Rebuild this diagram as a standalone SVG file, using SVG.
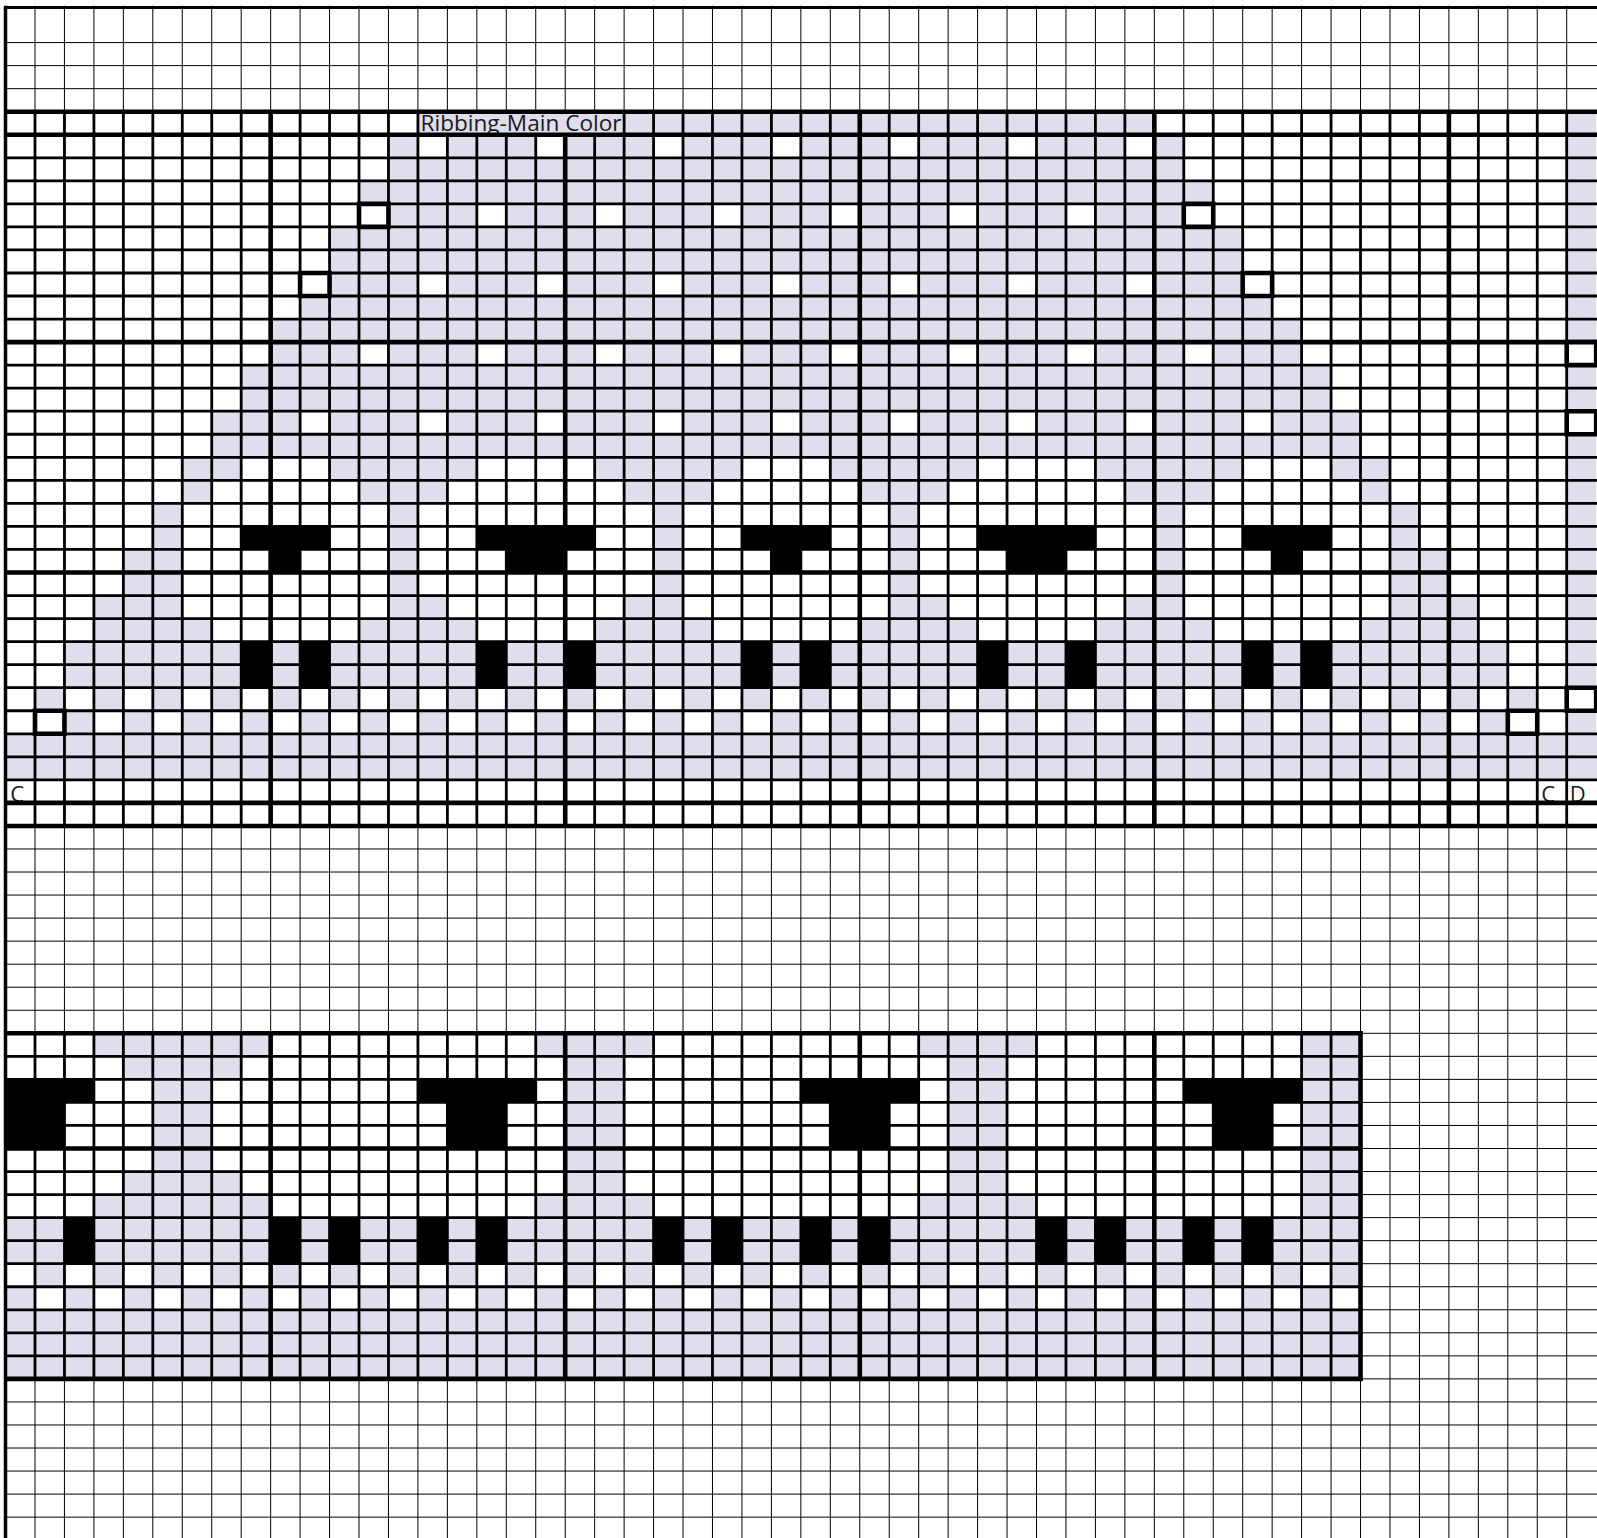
<svg xmlns="http://www.w3.org/2000/svg" width="1597" height="1538" viewBox="0 0 1597 1538">
<style>
.L{fill:#E0DDEC}
.B{fill:#000}
.thin{stroke:#000;stroke-width:1;fill:none;vector-effect:non-scaling-stroke}
.reg{stroke:#000;stroke-width:2.8;fill:none;vector-effect:non-scaling-stroke}
.thk{stroke:#000;stroke-width:4.6;fill:none;vector-effect:non-scaling-stroke}
.out{stroke:#000;stroke-width:4.6;fill:#fff;vector-effect:non-scaling-stroke}
.t{font-family:"Open Sans","Liberation Sans",sans-serif;font-size:22px;fill:#1a1a1a}
</style>
<defs>
<clipPath id="clipR0"><rect x="418" y="112" width="206" height="22.5"/></clipPath>
<clipPath id="clipR29"><rect x="0" y="780" width="1597" height="22.5"/></clipPath>
</defs>
<rect width="1597" height="1538" fill="#fff"/>
<g transform="translate(5.54,111.7) scale(29.456,23.04)">
<g id="chart1-fills">
<path class="L" d="M14 0h25v1h-25z M53 0h1v10h-1z M53 11h1v2h-1z M53 14h1v11h-1z
M13 1h1v1h-1z M15 1h3v1h-3z M19 1h3v1h-3z M23 1h3v1h-3z M27 1h3v1h-3z M31 1h3v1h-3z M35 1h3v1h-3z M39 1h1v1h-1z
M13 2h27v1h-27z M12 3h29v1h-29z
M13 4h3v1h-3z M17 4h3v1h-3z M21 4h3v1h-3z M25 4h3v1h-3z M29 4h3v1h-3z M33 4h3v1h-3z M37 4h3v1h-3z
M11 5h31v2h-31z
M11 7h3v1h-3z M15 7h3v1h-3z M19 7h3v1h-3z M23 7h3v1h-3z M27 7h3v1h-3z M31 7h3v1h-3z M35 7h3v1h-3z M39 7h3v1h-3z
M10 8h33v1h-33z M9 9h35v1h-35z
M9 10h3v1h-3z M13 10h3v1h-3z M17 10h3v1h-3z M21 10h3v1h-3z M25 10h3v1h-3z M29 10h3v1h-3z M33 10h3v1h-3z M37 10h3v1h-3z M41 10h3v1h-3z
M8 11h37v2h-37z
M7 13h3v1h-3z M11 13h3v1h-3z M15 13h3v1h-3z M19 13h3v1h-3z M23 13h3v1h-3z M27 13h3v1h-3z M31 13h3v1h-3z M35 13h3v1h-3z M39 13h3v1h-3z M43 13h3v1h-3z
M7 14h39v1h-39z
M6 15h2v1h-2z M11 15h5v1h-5z M20 15h5v1h-5z M28 15h5v1h-5z M37 15h5v1h-5z M45 15h2v1h-2z
M6 16h1v1h-1z M12 16h3v1h-3z M21 16h3v1h-3z M29 16h3v1h-3z M38 16h3v1h-3z M46 16h1v1h-1z
M5 17h1v2h-1z M13 17h1v2h-1z M22 17h1v2h-1z M30 17h1v2h-1z M39 17h1v2h-1z M47 17h1v2h-1z
M4 19h2v2h-2z M13 19h1v2h-1z M22 19h1v2h-1z M30 19h1v2h-1z M39 19h1v2h-1z M47 19h2v2h-2z
M3 21h3v1h-3z M13 21h2v1h-2z M21 21h2v1h-2z M30 21h2v1h-2z M38 21h2v1h-2z M47 21h3v1h-3z
M3 22h4v1h-4z M12 22h4v1h-4z M20 22h4v1h-4z M29 22h4v1h-4z M37 22h4v1h-4z M46 22h4v1h-4z
M2 23h49v2h-49z
M1 25h1v1h-1z M3 25h1v1h-1z M5 25h1v1h-1z M7 25h1v1h-1z M9 25h1v1h-1z M11 25h1v1h-1z M13 25h1v1h-1z M15 25h1v1h-1z M17 25h1v1h-1z M19 25h1v1h-1z M21 25h1v1h-1z M23 25h1v1h-1z M25 25h1v1h-1z M27 25h1v1h-1z M29 25h1v1h-1z M31 25h1v1h-1z M33 25h1v1h-1z M35 25h1v1h-1z M37 25h1v1h-1z M39 25h1v1h-1z M41 25h1v1h-1z M43 25h1v1h-1z M45 25h1v1h-1z M47 25h1v1h-1z M49 25h1v1h-1z M51 25h1v1h-1z
M2 26h1v1h-1z M4 26h1v1h-1z M6 26h1v1h-1z M8 26h1v1h-1z M10 26h1v1h-1z M12 26h1v1h-1z M14 26h1v1h-1z M16 26h1v1h-1z M18 26h1v1h-1z M20 26h1v1h-1z M22 26h1v1h-1z M24 26h1v1h-1z M26 26h1v1h-1z M28 26h1v1h-1z M30 26h1v1h-1z M32 26h1v1h-1z M34 26h1v1h-1z M36 26h1v1h-1z M38 26h1v1h-1z M40 26h1v1h-1z M42 26h1v1h-1z M44 26h1v1h-1z M46 26h1v1h-1z M48 26h1v1h-1z M50 26h1v1h-1z M53 26h1v1h-1z
M0 27h54.3v2h-54.3z"/>
<path class="B" d="M8 18h3v1h-3z M16 18h4v1h-4z M25 18h3v1h-3z M33 18h4v1h-4z M42 18h3v1h-3z
M9 19h1v1h-1z M17 19h2v1h-2z M26 19h1v1h-1z M34 19h2v1h-2z M43 19h1v1h-1z
M8 23h1v2h-1z M10 23h1v2h-1z M16 23h1v2h-1z M19 23h1v2h-1z M25 23h1v2h-1z M27 23h1v2h-1z M33 23h1v2h-1z M36 23h1v2h-1z M42 23h1v2h-1z M44 23h1v2h-1z"/>
</g>
<g id="chart2-fills">
<path class="L" d="M3 40h6v1h-6z M4 41h4v1h-4z M5 42h2v4h-2z M4 46h4v1h-4z M3 47h6v1h-6z
M18 40h4v1h-4z M19 41h2v6h-2z M18 47h4v1h-4z
M31 40h4v1h-4z M32 41h2v6h-2z M31 47h4v1h-4z
M44 40h2v8h-2z
M0 48h46v2h-46z
M1 50h1v1h-1z M3 50h1v1h-1z M5 50h1v1h-1z M7 50h1v1h-1z M9 50h1v1h-1z M11 50h1v1h-1z M13 50h1v1h-1z M15 50h1v1h-1z M17 50h1v1h-1z M19 50h1v1h-1z M21 50h1v1h-1z M23 50h1v1h-1z M25 50h1v1h-1z M27 50h1v1h-1z M29 50h1v1h-1z M31 50h1v1h-1z M33 50h1v1h-1z M35 50h1v1h-1z M37 50h1v1h-1z M39 50h1v1h-1z M41 50h1v1h-1z M43 50h1v1h-1z M45 50h1v1h-1z
M0 51h1v1h-1z M2 51h1v1h-1z M4 51h1v1h-1z M6 51h1v1h-1z M8 51h1v1h-1z M10 51h1v1h-1z M12 51h1v1h-1z M14 51h1v1h-1z M16 51h1v1h-1z M18 51h1v1h-1z M20 51h1v1h-1z M22 51h1v1h-1z M24 51h1v1h-1z M26 51h1v1h-1z M28 51h1v1h-1z M30 51h1v1h-1z M32 51h1v1h-1z M34 51h1v1h-1z M36 51h1v1h-1z M38 51h1v1h-1z M40 51h1v1h-1z M42 51h1v1h-1z M44 51h1v1h-1z
M0 52h46v3h-46z"/>
<path class="B" d="M0 42h3v1h-3z M14 42h4v1h-4z M27 42h4v1h-4z M40 42h4v1h-4z
M0 43h2v2h-2z M15 43h2v2h-2z M28 43h2v2h-2z M41 43h2v2h-2z
M2 48h1v2h-1z M9 48h1v2h-1z M11 48h1v2h-1z M14 48h1v2h-1z M16 48h1v2h-1z M22 48h1v2h-1z M24 48h1v2h-1z M27 48h1v2h-1z M29 48h1v2h-1z M35 48h1v2h-1z M37 48h1v2h-1z M40 48h1v2h-1z M42 48h1v2h-1z"/>
</g>
<g id="grid-thin">
<path class="thin" d="M0 -3H55M0 -2H55M0 -1H55M0 32H55M0 33H55M0 34H55M0 35H55M0 36H55M0 37H55M0 38H55M0 39H55M46 40H55M46 41H55M46 42H55M46 43H55M46 44H55M46 45H55M46 46H55M46 47H55M46 48H55M46 49H55M46 50H55M46 51H55M46 52H55M46 53H55M46 54H55M46 55H55M0 56H55M0 57H55M0 58H55M0 59H55M0 60H55M0 61H55"/>
<path class="thin" d="M1 -4.6V62M2 -4.6V62M3 -4.6V62M4 -4.6V62M5 -4.6V62M6 -4.6V62M7 -4.6V62M8 -4.6V62M9 -4.6V62M10 -4.6V62M11 -4.6V62M12 -4.6V62M13 -4.6V62M14 -4.6V62M15 -4.6V62M16 -4.6V62M17 -4.6V62M18 -4.6V62M19 -4.6V62M20 -4.6V62M21 -4.6V62M22 -4.6V62M23 -4.6V62M24 -4.6V62M25 -4.6V62M26 -4.6V62M27 -4.6V62M28 -4.6V62M29 -4.6V62M30 -4.6V62M31 -4.6V62M32 -4.6V62M33 -4.6V62M34 -4.6V62M35 -4.6V62M36 -4.6V62M37 -4.6V62M38 -4.6V62M39 -4.6V62M40 -4.6V62M41 -4.6V62M42 -4.6V62M43 -4.6V62M44 -4.6V62M45 -4.6V62M46 -4.6V62M47 -4.6V62M48 -4.6V62M49 -4.6V62M50 -4.6V62M51 -4.6V62M52 -4.6V62M53 -4.6V62"/>
</g>
<rect id="label-bg" class="L" x="14" y="0" width="7" height="1"/>
</g>
<g id="labels">
<text class="t" x="420.5" y="131" textLength="201" lengthAdjust="spacingAndGlyphs" clip-path="url(#clipR0)">Ribbing-Main Color</text>
<g clip-path="url(#clipR29)">
<text class="t" x="10.3" y="801.5">C</text>
<text class="t" x="1541.3" y="801.5">C</text>
<text class="t" x="1569.8" y="801.5">D</text>
</g>
</g>
<g transform="translate(5.54,111.7) scale(29.456,23.04)">
<g id="chart1-lines">
<path class="reg" d="M0 2H55M0 3H55M0 4H55M0 5H55M0 6H55M0 7H55M0 8H55M0 9H55M0 11H55M0 12H55M0 13H55M0 14H55M0 15H55M0 16H55M0 17H55M0 18H55M0 19H55M0 21H55M0 22H55M0 23H55M0 24H55M0 25H55M0 26H55M0 27H55M0 28H55M0 29H55"/>
<path class="reg" d="M1 0V31M2 0V31M3 0V31M4 0V31M5 0V31M6 0V31M7 0V31M8 0V31M10 0V31M11 0V31M12 0V31M13 0V31M14 0V31M15 1V31M16 1V31M17 1V31M18 1V31M20 1V31M21 0V31M22 0V31M23 0V31M24 0V31M25 0V31M26 0V31M27 0V31M28 0V31M30 0V31M31 0V31M32 0V31M33 0V31M34 0V31M35 0V31M36 0V31M37 0V31M38 0V31M40 0V31M41 0V31M42 0V31M43 0V31M44 0V31M45 0V31M46 0V31M47 0V31M48 0V31M50 0V31M51 0V31M52 0V31M53 0V31"/>
<path class="thk" d="M0 0H55M0 1H55M0 10H55M0 20H55M0 30H55M0 31H55M9 0V31M19 1V31M29 0V31M39 0V31M49 0V31"/>
</g>
<g id="chart2-lines">
<path class="reg" d="M0 41H46M0 42H46M0 43H46M0 44H46M0 46H46M0 47H46M0 48H46M0 49H46M0 50H46M0 51H46M0 52H46M0 53H46M0 54H46"/>
<path class="reg" d="M1 40V55M2 40V55M3 40V55M4 40V55M5 40V55M6 40V55M7 40V55M8 40V55M10 40V55M11 40V55M12 40V55M13 40V55M14 40V55M15 40V55M16 40V55M17 40V55M18 40V55M20 40V55M21 40V55M22 40V55M23 40V55M24 40V55M25 40V55M26 40V55M27 40V55M28 40V55M30 40V55M31 40V55M32 40V55M33 40V55M34 40V55M35 40V55M36 40V55M37 40V55M38 40V55M40 40V55M41 40V55M42 40V55M43 40V55M44 40V55M45 40V55"/>
<path class="thk" d="M0 40H46.08M0 45H46.08M0 55H46.08M9 40V55M19 40V55M29 40V55M39 40V55M46 39.9V55.1"/>
</g>
<g id="outlined-cells">
<rect class="out" x="12" y="4" width="1" height="1"/>
<rect class="out" x="40" y="4" width="1" height="1"/>
<rect class="out" x="10" y="7" width="1" height="1"/>
<rect class="out" x="42" y="7" width="1" height="1"/>
<rect class="out" x="53" y="10" width="1" height="1"/>
<rect class="out" x="53" y="13" width="1" height="1"/>
<rect class="out" x="53" y="25" width="1" height="1"/>
<rect class="out" x="1" y="26" width="1" height="1"/>
<rect class="out" x="51" y="26" width="1" height="1"/>
</g>
</g>
<g id="borders">
<line x1="5.5" y1="5.8" x2="5.5" y2="1538" stroke="#000" stroke-width="3.5"/>
<line x1="4" y1="7.4" x2="1597" y2="7.4" stroke="#000" stroke-width="3"/>
</g>
</svg>
